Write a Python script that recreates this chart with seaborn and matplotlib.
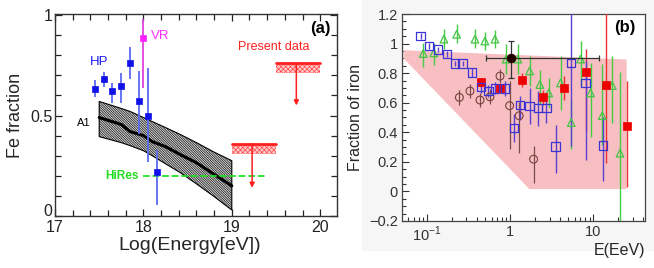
import matplotlib
matplotlib.use("Agg")
import matplotlib.pyplot as plt
import seaborn as sns
import numpy as np
from matplotlib.ticker import MultipleLocator, FixedLocator, FixedFormatter, LogLocator, NullFormatter
from matplotlib.patches import Rectangle

# ---------------- panel (a) data ----------------
hp_x = [17.45, 17.55, 17.65, 17.75, 17.85, 17.95, 18.05, 18.15]
hp_y = [0.63, 0.68, 0.62, 0.645, 0.76, 0.57, 0.50, 0.22]
hp_lo = [0.04, 0.04, 0.06, 0.085, 0.08, 0.16, 0.23, 0.165]
hp_hi = [0.045, 0.035, 0.04, 0.065, 0.08, 0.15, 0.235, 0.11]

vr_x = [18.0]
vr_y = [0.885]
vr_lo = [0.25]
vr_hi = [0.095]

a1_x = [17.5, 17.75, 17.85, 18.0, 18.1, 18.25, 18.42, 18.6, 18.79, 19.0]
a1_mid = [0.49, 0.455, 0.42, 0.40, 0.37, 0.345, 0.305, 0.265, 0.21, 0.15]
a1_hi = [0.57, 0.535, 0.52, 0.49, 0.47, 0.44, 0.405, 0.365, 0.32, 0.275]
a1_lo = [0.395, 0.365, 0.35, 0.325, 0.30, 0.26, 0.215, 0.16, 0.10, 0.03]

hires_x = [18.0, 19.4]
hires_y = [0.2, 0.2]

# present data upper limits
pd_x0 = [19.0, 19.5]
pd_x1 = [19.5, 20.0]
pd_top = [0.36, 0.76]
pd_band = [0.31, 0.71]
pd_arrow_x = [19.23, 19.73]
pd_arrow_to = [0.14, 0.55]

a_yticks = [0, 0.5, 1]
a_yticklabels = ["0", "0.5", "1"]
a_xticks = [17, 18, 19, 20]

# ---------------- panel (b) data ----------------
sq_x = [0.0847, 0.107, 0.138, 0.174, 0.219, 0.27, 0.347, 0.445, 0.55, 0.66, 0.87,
        1.11, 1.33, 1.72, 2.15, 2.74, 3.52, 5.43, 8.07, 13.1]
sq_y = [1.05, 0.984, 0.96, 0.928, 0.865, 0.865, 0.805, 0.708, 0.68, 0.697, 0.697,
        0.431, 0.585, 0.578, 0.562, 0.562, 0.303, 0.867, 0.734, 0.31]
sq_lo = [0.02, 0.02, 0.02, 0.02, 0.02, 0.02, 0.03, 0.04, 0.04, 0.04, 0.05,
         0.10, 0.10, 0.12, 0.12, 0.10, 0.18, 0.56, 0.52, 0.24]
sq_hi = [0.02, 0.02, 0.02, 0.02, 0.02, 0.02, 0.03, 0.04, 0.04, 0.04, 0.05,
         0.09, 0.06, 0.12, 0.12, 0.10, 0.145, 0.45, 0.15, 0.195]

tr_x = [0.091, 0.122, 0.161, 0.229, 0.38, 0.5, 0.66, 0.90, 1.24, 1.72, 2.28, 2.92,
        4.04, 5.43, 7.03, 9.27, 12.8, 16.9, 20.9]
tr_y = [0.933, 0.937, 1.03, 1.063, 1.03, 1.017, 1.03, 0.895, 0.895, 0.815, 0.723, 0.666,
        0.734, 0.466, 0.895, 0.666, 0.512, 0.716, 0.259]
tr_lo = [0.09, 0.08, 0.07, 0.06, 0.06, 0.06, 0.06, 0.10, 0.10, 0.10, 0.13, 0.10,
         0.18, 0.18, 0.18, 0.30, 0.20, 0.25, 0.60]
tr_hi = [0.07, 0.07, 0.07, 0.07, 0.07, 0.06, 0.06, 0.10, 0.10, 0.10, 0.10, 0.10,
         0.18, 0.15, 0.12, 0.20, 0.35, 0.20, 0.55]

ci_x = [0.247, 0.331, 0.437, 0.575, 0.759, 0.99, 1.29, 1.92]
ci_y = [0.636, 0.679, 0.618, 0.64, 0.78, 0.58, 0.512, 0.218]
ci_lo = [0.05, 0.05, 0.05, 0.05, 0.05, 0.29, 0.25, 0.16]
ci_hi = [0.05, 0.05, 0.05, 0.05, 0.05, 0.17, 0.09, 0.09]

rd_x = [0.445, 0.759, 1.40, 2.47, 4.43, 8.07, 14.1, 25.7]
rd_y = [0.737, 0.697, 0.753, 0.636, 0.698, 0.81, 0.723, 0.44]
rd_lo = [0.03, 0.03, 0.05, 0.05, 0.08, 0.40, 0.53, 0.41]
rd_hi = [0.03, 0.03, 0.05, 0.05, 0.08, 0.15, 0.60, 0.31]

bk_x = [1.04]
bk_y = [0.90]
bk_xlo = [0.52]
bk_xhi = [10.66]
bk_ylo = [0.13]
bk_yhi = [0.12]

pink_x = [0.053, 25.1, 25.1, 1.71, 0.053]
pink_y = [0.955, 0.892, 0.016, 0.016, 0.899]

b_yticks = [-0.2, 0, 0.2, 0.4, 0.6, 0.8, 1.0, 1.2]
b_yticklabels = ["\u22120.2", "0", "0.2", "0.4", "0.6", "0.8", "1", "1.2"]
b_xticks = [0.1, 1, 10]
b_xticklabels = ["10$^{-1}$", "1", "10"]

# ---------------- style ----------------
sns.set_theme(style="ticks")
plt.rcParams["font.family"] = ["Liberation Sans", "DejaVu Sans"]
plt.rcParams["mathtext.fontset"] = "custom"
plt.rcParams["mathtext.rm"] = "Liberation Sans"
plt.rcParams["xtick.direction"] = "in"
plt.rcParams["ytick.direction"] = "in"
plt.rcParams["hatch.linewidth"] = 0.45
plt.rcParams["axes.linewidth"] = 1.0

fig = plt.figure(figsize=(6.54, 2.68), dpi=100)
# faint grey backdrop of the right-hand picture
fig.patches.append(Rectangle((362 / 654, 1 - 250 / 268), 1 - 362 / 654, 250 / 268,
                             transform=fig.transFigure, color="#f6f6f6", zorder=-5))

# ================= panel (a) =================
ax = fig.add_axes([55 / 654, 1 - 216 / 268, 282 / 654, 202 / 268])
ax.fill_between(a1_x, a1_lo, a1_hi, facecolor="#d4d4d4", edgecolor="black",
                hatch="\\" * 14, linewidth=0.8, zorder=2)
sns.lineplot(x=a1_x, y=a1_mid, color="black", linewidth=2.2, ax=ax, zorder=3)

ax.plot(hires_x, hires_y, color="#22dd22", linestyle="--", linewidth=1.3, zorder=3)

for x0, x1, top, band, xa, to in zip(pd_x0, pd_x1, pd_top, pd_band, pd_arrow_x, pd_arrow_to):
    ax.fill_between([x0, x1], [band, band], [top, top], facecolor="#ffc8c8",
                    edgecolor="#ff4040", hatch="xxxxxxx", linewidth=0, zorder=2)
    ax.plot([x0, x1], [top, top], color="#ff2020", linewidth=2, zorder=3)
    ax.annotate("", xy=(xa, to), xytext=(xa, top),
                arrowprops=dict(arrowstyle="-|>", color="#ff2020", lw=1.1,
                                mutation_scale=7, shrinkA=0, shrinkB=0))

ax.errorbar(hp_x, hp_y, yerr=[hp_lo, hp_hi], fmt="none", ecolor="#5a6af0",
            elinewidth=1.3, capsize=0, zorder=4)
sns.scatterplot(x=hp_x, y=hp_y, marker="s", s=16, color="#1010e8", edgecolor="#1010e8",
                linewidth=0.5, ax=ax, zorder=5)
ax.errorbar(vr_x, vr_y, yerr=[vr_lo, vr_hi], fmt="none", ecolor="#e040e0",
            elinewidth=1.3, capsize=0, zorder=4)
sns.scatterplot(x=vr_x, y=vr_y, marker="s", s=16, color="#ff20ff", edgecolor="#ff20ff",
                linewidth=0.5, ax=ax, zorder=5)

ax.text(17.5, 0.765, "HP", color="#1a1aee", fontsize=9.5, ha="center", va="center")
ax.text(18.08, 0.895, "VR", color="#ff30ff", fontsize=9.5, ha="left", va="center")
ax.text(17.33, 0.465, "A1", color="black", fontsize=8, ha="center", va="center")
ax.text(17.76, 0.2, "HiRes", color="#22dd22", fontsize=8.5, fontweight="bold",
        ha="center", va="center")
ax.text(19.48, 0.84, "Present data", color="#ff2020", fontsize=9, ha="center", va="center")
ax.text(20.12, 0.935, "(a)", color="black", fontsize=12, fontweight="bold",
        ha="right", va="center")

ax.set_xlim(17, 20.19)
ax.set_ylim(0, 1.005)
ax.xaxis.set_major_locator(FixedLocator(a_xticks))
ax.xaxis.set_minor_locator(MultipleLocator(0.2))
ax.yaxis.set_major_locator(FixedLocator(a_yticks))
ax.yaxis.set_major_formatter(FixedFormatter(a_yticklabels))
ax.yaxis.set_minor_locator(MultipleLocator(0.1))
ax.tick_params(which="both", top=True, right=True, direction="in", colors="#222222",
               labelsize=11.5)
ax.tick_params(axis="x", pad=3)
ax.tick_params(axis="y", pad=2)
ax.tick_params(which="major", length=5, width=0.9)
ax.tick_params(which="minor", length=4, width=0.9)
# the "0" sits a little above the corner so it clears the "17"
for lab in ax.get_yticklabels():
    if lab.get_text() == "0":
        lab.set_verticalalignment("baseline")
for sp in ax.spines.values():
    sp.set_color("#333333")
ax.set_xlabel("Log(Energy[eV])", fontsize=14, labelpad=3)
ax.xaxis.set_label_coords(0.477, -0.105)
ax.set_ylabel("Fe fraction", fontsize=13, labelpad=4)

# ================= panel (b) =================
bx = fig.add_axes([402 / 654, 1 - 221 / 268, 243 / 654, 207 / 268])
bx.set_xscale("log")
bx.fill(pink_x, pink_y, color="#f7bfc2", linewidth=0, zorder=1)

bx.errorbar(tr_x, tr_y, yerr=[tr_lo, tr_hi], fmt="none", ecolor="#44cc44",
            elinewidth=1.0, capsize=0, zorder=3)
sns.scatterplot(x=tr_x, y=tr_y, marker="^", s=30, facecolor="none", edgecolor="#44c444",
                linewidth=0.9, ax=bx, zorder=4)

bx.errorbar(ci_x, ci_y, yerr=[ci_lo, ci_hi], fmt="none", ecolor="#7a4a4a",
            elinewidth=0.9, capsize=0, zorder=3)
sns.scatterplot(x=ci_x, y=ci_y, marker="o", s=32, facecolor="none", edgecolor="#7a4040",
                linewidth=0.8, ax=bx, zorder=4)

bx.errorbar(rd_x, rd_y, yerr=[rd_lo, rd_hi], fmt="none", ecolor="#ee3030",
            elinewidth=1.0, capsize=0, zorder=3)
sns.scatterplot(x=rd_x, y=rd_y, marker="s", s=34, color="#ee0000", edgecolor="#ee0000",
                linewidth=0.5, ax=bx, zorder=5)

bx.errorbar(sq_x, sq_y, yerr=[sq_lo, sq_hi], fmt="none", ecolor="#5a40d0",
            elinewidth=1.0, capsize=0, zorder=3)
sns.scatterplot(x=sq_x, y=sq_y, marker="s", s=36, facecolor="none", edgecolor="#3a34d4",
                linewidth=0.9, ax=bx, zorder=6)

bx.errorbar(bk_x, bk_y, xerr=[bk_xlo, bk_xhi], yerr=[bk_ylo, bk_yhi], fmt="none",
            ecolor="#333333", elinewidth=0.9, capsize=2.5, capthick=0.9, zorder=6)
sns.scatterplot(x=bk_x, y=bk_y, marker="o", s=40, color="#220000", edgecolor="#220000",
                linewidth=0.5, ax=bx, zorder=7)

bx.text(24, 1.11, "(b)", color="black", fontsize=12, fontweight="bold",
        ha="center", va="center")

bx.set_xlim(0.0506, 41.7)
bx.set_ylim(-0.2, 1.2)
bx.xaxis.set_major_locator(FixedLocator(b_xticks))
bx.xaxis.set_major_formatter(FixedFormatter(b_xticklabels))
bx.xaxis.set_minor_locator(LogLocator(base=10, subs=np.arange(2, 10)))
bx.xaxis.set_minor_formatter(NullFormatter())
bx.yaxis.set_major_locator(FixedLocator(b_yticks))
bx.yaxis.set_major_formatter(FixedFormatter(b_yticklabels))
bx.yaxis.set_minor_locator(MultipleLocator(0.05))
bx.tick_params(which="both", direction="in", colors="#333333", labelsize=10.5, pad=3)
bx.tick_params(which="major", length=5, width=0.8)
bx.tick_params(which="minor", length=3, width=0.8)
for sp in bx.spines.values():
    sp.set_color("#444444")
    sp.set_linewidth(0.9)
bx.set_xlabel("E(EeV)", fontsize=11.5, loc="right", labelpad=-1)
bx.set_ylabel("Fraction of iron", fontsize=11.5, labelpad=4)

fig.savefig("out.png", dpi=100)
